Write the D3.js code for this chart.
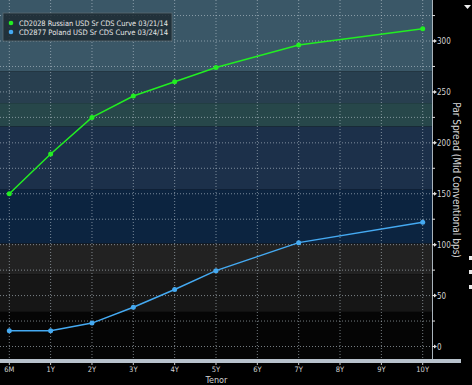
<!DOCTYPE html>
<html>
<head>
<meta charset="utf-8">
<script src="https://cdn.jsdelivr.net/npm/d3@7"></script>
<style>
  body { margin: 0; background: #000; }
  svg { display: block; }
  text { font-family: "DejaVu Sans Condensed", "DejaVu Sans", sans-serif; }
</style>
</head>
<body>
<div id="chart"></div>
<script>
// tenor categories and series
const tenors = ["6M", "1Y", "2Y", "3Y", "4Y", "5Y", "6Y", "7Y", "8Y", "9Y", "10Y"];
const russiaTenors = ["6M", "1Y", "2Y", "3Y", "4Y", "5Y", "7Y", "10Y"];
const russiaValues = [150, 189, 225, 246, 260, 274, 296, 312];
const polandTenors = ["6M", "1Y", "2Y", "3Y", "4Y", "5Y", "7Y", "10Y"];
const polandValues = [15.5, 15.5, 23, 38.5, 56, 74.5, 102, 122];
const yTicks = [0, 50, 100, 150, 200, 250, 300];
const legendLabels = ["CD2028 Russian USD Sr CDS Curve 03/21/14", "CD2877 Poland USD Sr CDS Curve 03/24/14"];

const width = 472, height = 385;
const plotRight = 432, plotBottom = 359;

const x = d3.scalePoint().domain(tenors).range([9.3, 422.7]);
const y = d3.scaleLinear().domain([0, 300]).range([346.5, 41]);

// background bands (value ranges, bloomberg style)
const bands = [
  { from: 270, to: 345, color: "#3a5767" },
  { from: 239, to: 270, color: "#283f4f" },
  { from: 216, to: 239, color: "#27474a" },
  { from: 154, to: 216, color: "#1c304a" },
  { from: 101, to: 154, color: "#0c2440" },
  { from: 71, to: 101, color: "#222222" },
  { from: 34, to: 71, color: "#161616" },
  { from: -15, to: 34, color: "#050505" }
];

const svg = d3.select("#chart")
    .append("svg")
    .attr("width", width)
    .attr("height", height);

svg.append("rect").attr("width", width).attr("height", height).attr("fill", "#000");

const plot = svg.append("g");

plot.selectAll("rect.band")
    .data(bands)
    .enter()
    .append("rect")
    .attr("class", "band")
    .attr("x", 0)
    .attr("width", plotRight)
    .attr("y", d => Math.max(0, y(d.to)))
    .attr("height", d => Math.min(plotBottom, y(d.from)) - Math.max(0, y(d.to)))
    .attr("fill", d => d.color);

// grid lines
const gridVals = d3.range(0, 326, 25);
plot.selectAll("line.hgrid")
    .data(gridVals)
    .enter()
    .append("line")
    .attr("x1", 0)
    .attr("x2", plotRight)
    .attr("y1", d => y(d))
    .attr("y2", d => y(d))
    .attr("stroke", "#c0ccd4")
    .attr("stroke-opacity", 0.6)
    .attr("stroke-width", 1)
    .attr("stroke-dasharray", "1,2");

plot.selectAll("line.vgrid")
    .data(tenors)
    .enter()
    .append("line")
    .attr("x1", d => x(d))
    .attr("x2", d => x(d))
    .attr("y1", 0)
    .attr("y2", plotBottom)
    .attr("stroke", "#c0ccd4")
    .attr("stroke-opacity", 0.6)
    .attr("stroke-width", 1)
    .attr("stroke-dasharray", "1,2");

// right axis line
svg.append("line")
    .attr("x1", plotRight + 0.5).attr("x2", plotRight + 0.5)
    .attr("y1", 0).attr("y2", plotBottom)
    .attr("stroke", "#aab4bc");

// bottom thick bar
svg.append("rect")
    .attr("x", 0).attr("y", plotBottom)
    .attr("width", 461).attr("height", 4)
    .attr("fill", "#b8c2cc");

// y ticks
svg.selectAll("line.minor")
    .data(gridVals)
    .enter()
    .append("line")
    .attr("x1", plotRight).attr("x2", plotRight + 3)
    .attr("y1", d => y(d)).attr("y2", d => y(d))
    .attr("stroke", "#ddd");

svg.selectAll("path.ytick")
    .data(yTicks)
    .enter()
    .append("path")
    .attr("d", d => `M${plotRight},${y(d) - 0.5}h2v-1.5l3,2l-3,2v-1.5h-2z`)
    .attr("fill", "#ddd");

svg.selectAll("text.ylab")
    .data(yTicks)
    .enter()
    .append("text")
    .attr("x", 437)
    .attr("y", d => y(d) + 3)
    .attr("font-size", "8px")
    .attr("fill", "#d4d4d4")
    .text(d => d);

// x ticks + labels
svg.selectAll("line.xtick")
    .data(tenors)
    .enter()
    .append("line")
    .attr("x1", d => x(d)).attr("x2", d => x(d))
    .attr("y1", plotBottom + 4).attr("y2", plotBottom + 6)
    .attr("stroke", "#ccc");

svg.selectAll("text.xlab")
    .data(tenors)
    .enter()
    .append("text")
    .attr("x", d => x(d))
    .attr("y", 372)
    .attr("text-anchor", "middle")
    .attr("font-size", "7.5px")
    .attr("fill", "#d4d4d4")
    .text(d => d);

svg.append("text")
    .attr("x", 216.5).attr("y", 383)
    .attr("text-anchor", "middle")
    .attr("font-size", "9px")
    .attr("fill", "#d4d4d4")
    .text("Tenor");

svg.append("text")
    .attr("transform", "translate(453,180) rotate(90)")
    .attr("text-anchor", "middle")
    .attr("font-size", "10px")
    .attr("fill", "#d4d4d4")
    .text("Par Spread (Mid Conventional bps)");

// small marks on the far right edge
svg.append("path").attr("d", "M464,5h7l-3.5,4z").attr("fill", "#eee");
svg.selectAll("rect.edge")
    .data([258, 272, 287])
    .enter()
    .append("rect")
    .attr("x", 469).attr("y", d => d - 2)
    .attr("width", 4).attr("height", 4)
    .attr("fill", "#e8e8e8");

// series
const line = d3.line().x(d => x(d[0])).y(d => y(d[1]));
const series = [
  { tenors: russiaTenors, values: russiaValues, color: "#22ee22" },
  { tenors: polandTenors, values: polandValues, color: "#45aaf2" }
];

series.forEach(s => {
    const pts = s.tenors.map((t, i) => [t, s.values[i]]);
    plot.append("path")
        .datum(pts)
        .attr("d", line)
        .attr("fill", "none")
        .attr("stroke", s.color)
        .attr("stroke-width", 1.5);
    plot.selectAll(null)
        .data(pts)
        .enter()
        .append("circle")
        .attr("cx", d => x(d[0]))
        .attr("cy", d => y(d[1]))
        .attr("r", 2.5)
        .attr("fill", s.color);
});

// legend
const legend = svg.append("g").attr("transform", "translate(3,13)");
legend.append("rect")
    .attr("width", 169).attr("height", 28)
    .attr("fill", "#1d2a32")
    .attr("fill-opacity", 0.85)
    .attr("stroke", "#5a6a72")
    .attr("stroke-width", 0.8);
legend.selectAll("circle")
    .data(series)
    .enter()
    .append("circle")
    .attr("cx", 8)
    .attr("cy", (d, i) => 10 + i * 9)
    .attr("r", 2.3)
    .attr("fill", d => d.color);
legend.selectAll("text")
    .data(legendLabels)
    .enter()
    .append("text")
    .attr("x", 16)
    .attr("y", (d, i) => 12.5 + i * 9)
    .attr("font-size", "7.5px")
    .attr("fill", "#e8e8e8")
    .attr("textLength", 149)
    .attr("lengthAdjust", "spacingAndGlyphs")
    .text(d => d);
</script>
</body>
</html>
